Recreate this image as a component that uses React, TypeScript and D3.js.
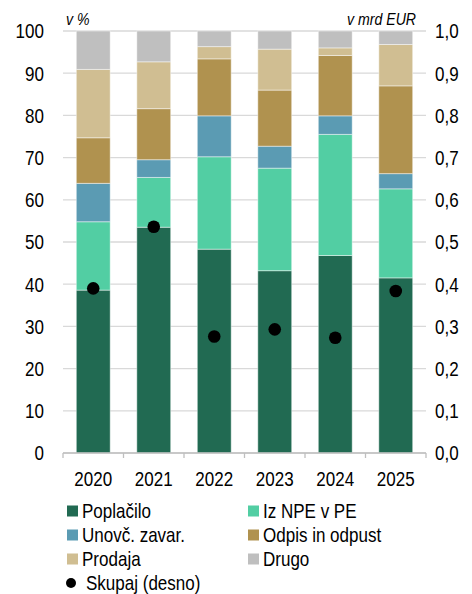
import React from "react";
import * as d3 from "d3";

const years = ["2020", "2021", "2022", "2023", "2024", "2025"];
const poplacilo = [38.6, 53.5, 48.3, 43.2, 46.8, 41.5];
const izNpe = [16.2, 11.8, 21.9, 24.3, 28.7, 21.1];
const unovc = [9.1, 4.2, 9.7, 5.2, 4.4, 3.6];
const odpis = [10.8, 12.1, 13.5, 13.3, 14.3, 20.8];
const prodaja = [16.2, 11.1, 2.9, 9.7, 1.8, 9.8];
const drugo = [9.1, 7.3, 3.7, 4.3, 4.0, 3.2];
const skupaj = [0.39, 0.536, 0.276, 0.293, 0.273, 0.384];

const seriesNames = ["Poplačilo", "Iz NPE v PE", "Unovč. zavar.", "Odpis in odpust", "Prodaja", "Drugo"];
const seriesValues = [poplacilo, izNpe, unovc, odpis, prodaja, drugo];
const colors = ["#216a52", "#52cea3", "#5b9bb3", "#b0924f", "#d0be92", "#bfbfbf"];

const leftTicks = [0, 10, 20, 30, 40, 50, 60, 70, 80, 90, 100];
const rightTicks = [0, 0.1, 0.2, 0.3, 0.4, 0.5, 0.6, 0.7, 0.8, 0.9, 1.0];

const SX = 0.83;

function NText(props: {
  x: number;
  y: number;
  anchor?: "start" | "middle" | "end";
  size: number;
  italic?: boolean;
  dy?: string;
  children: React.ReactNode;
}) {
  return (
    <g transform={`translate(${props.x},${props.y}) scale(${SX},1)`}>
      <text
        x={0}
        y={0}
        dy={props.dy}
        textAnchor={props.anchor || "start"}
        fontSize={props.size}
        fontStyle={props.italic ? "italic" : "normal"}
        fill="#000"
      >
        {props.children}
      </text>
    </g>
  );
}

export default function App() {
  const W = 472, H = 594;
  const x0 = 63, x1 = 426, yTop = 31, yBot = 453;
  const x = d3.scaleBand<string>().domain(years).range([x0, x1]).paddingInner(0.44).paddingOuter(0.22);
  const xb = d3.scaleBand<string>().domain(years).range([x0, x1]);
  const y = d3.scaleLinear().domain([0, 100]).range([yBot, yTop]);
  const yR = d3.scaleLinear().domain([0, 1]).range([yBot, yTop]);

  const rows = years.map((yr, i) => {
    const o: any = { year: yr };
    seriesNames.forEach((s, j) => (o[s] = seriesValues[j][i]));
    return o;
  });
  const stacked = d3.stack<any>().keys(seriesNames)(rows);
  const font = "'Liberation Sans', Arial, sans-serif";
  const fs = 20.5;

  const legendItems = seriesNames.map((s, i) => ({
    name: s,
    color: colors[i],
    col: i % 2,
    row: Math.floor(i / 2),
  }));

  return (
    <svg width={W} height={H} style={{ position: "absolute", left: 0, top: 0 }} fontFamily={font}>
      <rect width={W} height={H} fill="#fff" />
      {leftTicks.map((t) => (
        <line key={"g" + t} x1={x0} x2={x1} y1={y(t)} y2={y(t)} stroke="#d9d9d9" strokeWidth={1.3} />
      ))}
      {stacked.map((layer, j) => (
        <g key={layer.key} fill={colors[j]}>
          {layer.map((d, i) => (
            <rect
              key={i}
              x={x(years[i])}
              width={x.bandwidth()}
              y={y(d[1])}
              height={y(d[0]) - y(d[1])}
              stroke="rgba(255,255,255,0.45)"
              strokeWidth={1}
            />
          ))}
        </g>
      ))}
      <line x1={x0} x2={x1} y1={yBot} y2={yBot} stroke="#bfbfbf" strokeWidth={1.3} />
      {years.map((yr) => (
        <line key={"t" + yr} x1={xb(yr)} x2={xb(yr)} y1={yBot} y2={yBot + 5} stroke="#bfbfbf" strokeWidth={1.3} />
      ))}
      <line x1={x1} x2={x1} y1={yBot} y2={yBot + 5} stroke="#bfbfbf" strokeWidth={1.3} />
      {skupaj.map((v, i) => (
        <circle key={"c" + i} cx={(x(years[i]) as number) + x.bandwidth() / 2} cy={yR(v)} r={6.3} fill="#000" />
      ))}
      {leftTicks.map((t) => (
        <NText key={"l" + t} x={44} y={y(t)} dy="0.36em" anchor="end" size={fs}>
          {t}
        </NText>
      ))}
      {rightTicks.map((t) => (
        <NText key={"r" + t} x={435} y={yR(t)} dy="0.36em" size={fs}>
          {t.toFixed(1).replace(".", ",")}
        </NText>
      ))}
      {years.map((yr) => (
        <NText key={"x" + yr} x={(x(yr) as number) + x.bandwidth() / 2} y={486} anchor="middle" size={fs}>
          {yr}
        </NText>
      ))}
      <NText x={66} y={25} size={17} italic>v %</NText>
      <NText x={416} y={25} size={17} italic anchor="end">v mrd EUR</NText>
      {legendItems.map((it) => (
        <g key={it.name}>
          <rect x={it.col === 0 ? 67 : 248} y={511 + it.row * 24 - 5.5} width={11} height={11} fill={it.color} />
          <NText x={(it.col === 0 ? 67 : 248) + 15} y={511 + it.row * 24} dy="0.36em" size={fs}>
            {it.name}
          </NText>
        </g>
      ))}
      <circle cx={71} cy={511 + 3 * 24} r={5} fill="#000" />
      <NText x={86} y={511 + 3 * 24} dy="0.36em" size={fs}>Skupaj (desno)</NText>
    </svg>
  );
}
